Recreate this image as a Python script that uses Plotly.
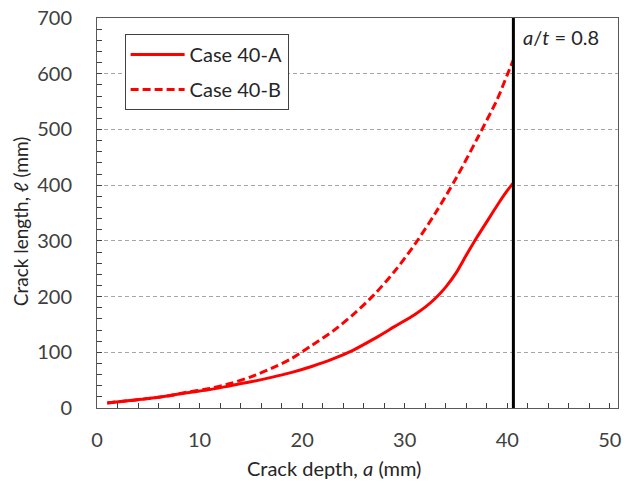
import plotly.graph_objects as go

# Data
depth_a = [1, 3, 5, 7, 9, 11, 13, 15, 17, 19, 21, 23, 25, 27, 29, 31, 32, 33, 34, 35, 36, 37, 38, 39, 40, 40.6]
length_a = [9, 13, 17, 22, 28, 33, 40, 47, 55, 64, 75, 88, 104, 124, 146, 168, 181, 197, 217, 242, 274, 305, 334, 363, 390, 404]

depth_b = [1, 3, 5, 7, 9, 11, 13, 15, 17, 19, 21, 23, 25, 27, 29, 31, 33, 35, 37, 39, 40, 40.6]
length_b = [9, 13, 17, 22, 29, 35, 44, 56, 71, 89, 113, 138, 168, 203, 245, 294, 350, 412, 481, 553, 598, 625]

limit_depth = [40.6, 40.6]
limit_length = [0, 700]

series_names = ["Case 40-A", "Case 40-B"]

FONT = "Lato, Carlito, sans-serif"
TXT = "#404040"
TITLE = "#262626"

fig = go.Figure()
fig.add_trace(go.Scatter(x=depth_a, y=length_a, mode="lines", name=series_names[0], legendgroup="a",
                         line=dict(color="#ff0000", width=3, shape="spline", smoothing=0.8)))
fig.add_trace(go.Scatter(x=depth_b, y=length_b, mode="lines", name=series_names[1], legendgroup="b",
                         line=dict(color="#ff0000", width=3, dash="8px,4px", shape="spline", smoothing=0.8)))
fig.add_trace(go.Scatter(x=limit_depth, y=limit_length, mode="lines", showlegend=False,
                         line=dict(color="#000000", width=3)))

fig.update_layout(
    width=626, height=483,
    margin=dict(l=97, r=5, t=16, b=75),
    paper_bgcolor="white", plot_bgcolor="white",
    font=dict(family=FONT, size=20, color=TXT),
    showlegend=True,
    legend=dict(x=0.053, y=0.959, xanchor="left", yanchor="top",
                bgcolor="white", bordercolor="#404040", borderwidth=1,
                font=dict(family=FONT, size=20, color=TITLE),
                tracegroupgap=6, itemwidth=54),
)

fig.update_xaxes(
    range=[0, 50.8], tickvals=[0, 10, 20, 30, 40, 50],
    ticks="inside", ticklen=5, tickcolor="#404040",
    minor=dict(dtick=2, tick0=0, ticks="inside", ticklen=5, tickcolor="#404040", showgrid=False),
    showline=True, linecolor="#595959", linewidth=1, mirror=True,
    showgrid=False, zeroline=False,
    ticklabelstandoff=14,
    tickfont=dict(family=FONT, size=20, color=TXT),
)
fig.update_yaxes(
    range=[0, 700], tickvals=[0, 100, 200, 300, 400, 500, 600, 700],
    ticks="inside", ticklen=5, tickcolor="#404040",
    minor=dict(dtick=20, tick0=0, ticks="inside", ticklen=5, tickcolor="#404040", showgrid=False),
    showline=True, linecolor="#595959", linewidth=1, mirror=True,
    showgrid=True, gridcolor="#a6a6a6", griddash="4px,3px", gridwidth=1,
    zeroline=False,
    ticklabelstandoff=20,
    tickfont=dict(family=FONT, size=20, color=TXT),
)

fig.add_annotation(xref="paper", yref="paper", x=-0.147, y=0.48, xanchor="center", yanchor="middle",
                   text="Crack length, <i>ℓ</i> (mm)", textangle=-90, showarrow=False,
                   font=dict(family=FONT, size=19, color=TITLE))
fig.add_annotation(xref="paper", yref="paper", x=0.455, y=-0.153, xanchor="center", yanchor="middle",
                   text="Crack depth, <i>a</i> (mm)", showarrow=False,
                   font=dict(family=FONT, size=20, color=TITLE))
fig.add_annotation(xref="x", yref="paper", x=41.3, y=0.951, xanchor="left", yanchor="middle",
                   text="<i>a</i>/<i>t</i> = 0.8", showarrow=False,
                   font=dict(family=FONT, size=20, color=TITLE))

# remove the browser's default 8px body margin so the figure fills the window exactly
fig.write_html("out.html", config={"displayModeBar": False},
               post_script="document.body.style.margin='0';document.body.style.overflow='hidden';")
